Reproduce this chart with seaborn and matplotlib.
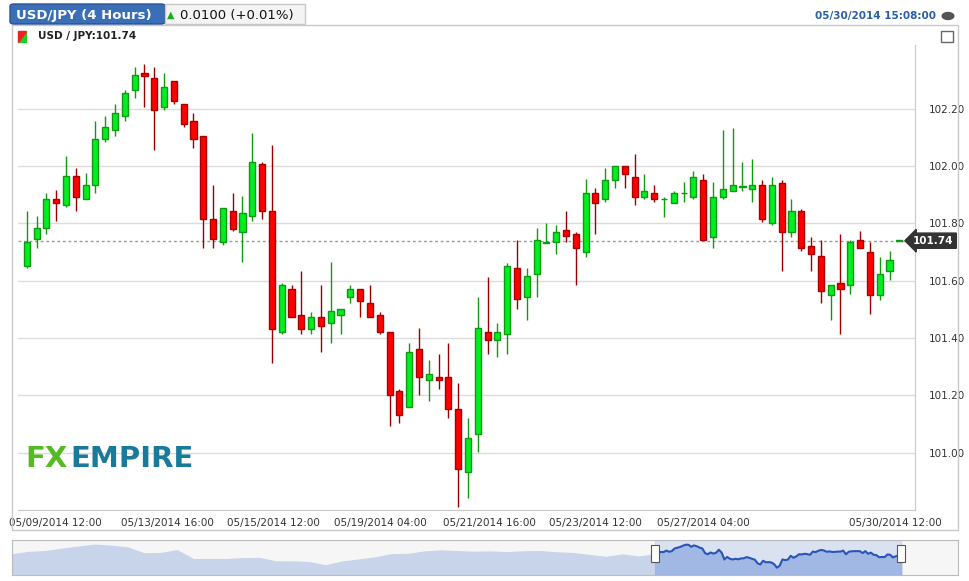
import matplotlib
matplotlib.use("Agg")
import matplotlib.pyplot as plt
import seaborn as sns
import numpy as np
import pandas as pd
from matplotlib.patches import Rectangle, FancyBboxPatch, Polygon

opens = [101.653,101.745,101.784,101.885,101.863,101.965,101.885,101.934,102.094,102.126,102.174,102.265,102.324,102.307,102.206,102.297,102.216,102.157,102.105,101.815,101.734,101.844,101.772,101.826,
         102.006,101.845,101.422,101.573,101.482,101.432,101.472,101.453,101.482,101.542,101.573,101.524,101.482,101.423,101.214,101.161,101.363,101.252,101.263,101.263,101.151,100.932,101.065,
         101.423,101.392,101.413,101.643,101.542,101.622,101.733,101.734,101.776,101.765,101.702,101.905,101.884,101.953,102.002,101.964,101.894,101.905,101.884,101.873,101.905,101.894,101.953,
         101.753,101.894,101.915,101.927,101.922,101.933,101.803,101.943,101.772,101.845,101.723,101.685,101.552,101.594,101.584,101.744,101.702,101.552,101.633,101.738]
highs = [101.845,101.826,101.905,101.916,102.036,101.995,101.977,102.156,102.176,102.216,102.266,102.345,102.356,102.345,102.326,102.297,102.216,102.185,102.105,101.935,101.853,101.906,101.895,102.116,
         102.013,102.074,101.591,101.584,101.634,101.492,101.584,101.664,101.503,101.584,101.573,101.584,101.492,101.423,101.221,101.382,101.434,101.323,101.343,101.382,101.242,101.122,101.542,
         101.613,101.453,101.663,101.744,101.643,101.783,101.803,101.793,101.844,101.772,101.955,101.923,101.994,102.002,102.002,102.044,101.974,101.934,101.894,101.914,101.944,101.984,101.974,
         101.944,102.126,102.135,102.014,102.024,101.953,101.964,101.953,101.884,101.852,101.753,101.744,101.584,101.764,101.744,101.773,101.734,101.684,101.703,101.738]
lows = [101.646,101.716,101.765,101.807,101.856,101.845,101.885,101.906,102.086,102.107,102.156,102.237,102.206,102.055,102.197,102.216,102.136,102.065,101.714,101.714,101.726,101.774,101.664,101.807,
        101.814,101.314,101.413,101.472,101.413,101.413,101.353,101.384,101.413,101.522,101.472,101.472,101.413,101.093,101.102,101.161,101.203,101.182,101.223,101.122,100.811,100.842,101.003,
        101.343,101.334,101.343,101.503,101.464,101.544,101.733,101.694,101.735,101.584,101.684,101.764,101.874,101.924,101.924,101.864,101.885,101.874,101.824,101.873,101.874,101.884,101.744,
        101.714,101.884,101.915,101.915,101.874,101.805,101.794,101.634,101.753,101.705,101.634,101.523,101.464,101.414,101.555,101.713,101.484,101.534,101.603,101.738]
closes = [101.735,101.784,101.885,101.873,101.965,101.894,101.934,102.094,102.136,102.185,102.255,102.317,102.314,102.195,102.276,102.227,102.146,102.094,101.815,101.745,101.853,101.782,101.836,102.014,
          101.845,101.432,101.584,101.472,101.432,101.472,101.443,101.493,101.503,101.573,101.531,101.472,101.422,101.202,101.132,101.353,101.263,101.273,101.252,101.151,100.942,101.053,101.434,
          101.392,101.423,101.653,101.535,101.615,101.744,101.735,101.772,101.755,101.713,101.905,101.873,101.953,102.002,101.974,101.894,101.915,101.884,101.885,101.905,101.906,101.964,101.744,
          101.894,101.922,101.933,101.931,101.933,101.814,101.933,101.772,101.843,101.714,101.692,101.563,101.584,101.573,101.734,101.713,101.552,101.622,101.674,101.738]
xtick_pos = [2.9, 14.3, 25.2, 36.1, 47.2, 58.0, 69.0, 88.6]
xtick_labels = ["05/09/2014 12:00", "05/13/2014 16:00", "05/15/2014 12:00", "05/19/2014 04:00",
                "05/21/2014 16:00", "05/23/2014 12:00", "05/27/2014 04:00", "05/30/2014 12:00"]
ytick_vals = [101.00, 101.20, 101.40, 101.60, 101.80, 102.00, 102.20]
last_price = 101.74

df = pd.DataFrame({"o": opens, "h": highs, "l": lows, "c": closes})
df["i"] = np.arange(len(df))

sns.set_style("white")
plt.rcParams['font.family'] = ['DejaVu Sans']
W, H = 970, 581
fig = plt.figure(figsize=(W/100, H/100), dpi=100)
fig.patch.set_facecolor("white")

def fx(x): return x / W
def fy(y): return 1 - y / H

fig.patches.append(Rectangle((fx(12), fy(530)), fx(946), 505/H, transform=fig.transFigure,
                             fill=False, edgecolor="#c8c8c8", lw=1))
fig.patches.append(FancyBboxPatch((fx(10), fy(24)), fx(155), 20/H, boxstyle="round,pad=0,rounding_size=0.004",
                                  transform=fig.transFigure, facecolor="#3a6fb8", edgecolor="#2a5090"))
fig.text(fx(16), fy(15), "USD/JPY (4 Hours)", color="white", fontsize=9.5, fontweight="bold", va="center")
fig.patches.append(Rectangle((fx(165), fy(24)), fx(140), 20/H, transform=fig.transFigure,
                             facecolor="#f4f4f4", edgecolor="#c8c8c8"))
fig.text(fx(167), fy(15), "▲", color="#22aa22", fontsize=7, va="center")
fig.text(fx(180), fy(15), "0.0100 (+0.01%)", color="#111111", fontsize=9.5, va="center")
fig.text(fx(936), fy(16), "05/30/2014 15:08:00", color="#2a5fa8", fontsize=7.5, fontweight="bold", va="center", ha="right")
fig.patches.append(plt.Circle((fx(948), fy(16)), 0.006, transform=fig.transFigure, color="#555555"))
fig.text(fx(38), fy(36), "USD / JPY:101.74", color="#222222", fontsize=7.5, fontweight="bold", va="center")
fig.patches.append(Polygon([[fx(18), fy(42)], [fx(26), fy(42)], [fx(26), fy(31)]], closed=True,
                           transform=fig.transFigure, color="#22cc22"))
fig.patches.append(Polygon([[fx(18), fy(42)], [fx(18), fy(31)], [fx(26), fy(31)]], closed=True,
                           transform=fig.transFigure, color="#ee2222"))
fig.patches.append(Rectangle((fx(941), fy(42)), fx(12), 11/H, transform=fig.transFigure,
                             facecolor="white", edgecolor="#666666"))

ax = fig.add_axes([fx(18), fy(510), fx(897), 465/H])
ax.set_facecolor("white")
for s in ax.spines.values():
    s.set_visible(False)
ax.spines["bottom"].set_visible(True); ax.spines["bottom"].set_color("#c8c8c8")
ax.spines["right"].set_visible(True); ax.spines["right"].set_color("#c8c8c8")
for v in ytick_vals:
    ax.axhline(v, color="#dcdcdc", lw=1, zorder=0)
ax.axhline(last_price, color="#999999", lw=1, ls=(0, (2, 2)), zorder=1)

up = df[df.c >= df.o]; dn = df[df.c < df.o]
ax.vlines(up.i, up.l, up.h, color="#119911", lw=1, zorder=2)
ax.vlines(dn.i, dn.l, dn.h, color="#990000", lw=1, zorder=2)
ax.bar(up.i, np.maximum(up.c - up.o, 0.003), bottom=up.o, width=0.62, color="#00ee22", edgecolor="#119911", lw=1, zorder=3)
ax.bar(dn.i, dn.o - dn.c, bottom=dn.c, width=0.62, color="#ff0000", edgecolor="#aa0000", lw=1, zorder=3)

ax.set_xlim(-0.9, len(df) - 1 + 1.6)
ax.set_ylim(100.80, 102.423)
ax.set_xticks(xtick_pos); ax.set_xticklabels(xtick_labels, fontsize=7.5, color="#333333")
ax.yaxis.tick_right()
ax.set_yticks(ytick_vals); ax.set_yticklabels([f"{v:.2f}" for v in ytick_vals], fontsize=7.5, color="#333333")
ax.tick_params(length=0, pad=6)
ax.tick_params(axis="y", pad=10)

ax.annotate(f"{last_price:.2f}", xy=(1.0, last_price), xycoords=("axes fraction", "data"),
            xytext=(0.998, last_price), textcoords=("axes fraction", "data"),
            fontsize=7.5, fontweight="bold", color="white", va="center", ha="left",
            bbox=dict(boxstyle="larrow,pad=0.25", fc="#333333", ec="#333333"), zorder=5,
            annotation_clip=False)

ax.text(0.008, 0.11, "FX", transform=ax.transAxes, fontsize=21, color="#55bb22", fontweight="bold", va="center")
ax.text(0.058, 0.11, "EMPIRE", transform=ax.transAxes, fontsize=21, color="#1a7a9a", fontweight="semibold", va="center")

nav = fig.add_axes([fx(12), fy(575), fx(946), 35/H])
nav.set_facecolor("#f6f6f6")
ctx = pd.DataFrame({"x": np.linspace(0, 0.68, 40),
                    "y": np.interp(np.linspace(0, 1, 40), np.linspace(0, 1, len(closes)), closes)})
nav.fill_between(ctx.x, 100.5, ctx.y, color="#c8d4ea")
sel = pd.DataFrame({"x": np.linspace(0.68, 0.94, len(closes)), "y": closes})
nav.fill_between(sel.x, 100.5, sel.y, color="#aabde6")
sns.lineplot(data=sel, x="x", y="y", ax=nav, color="#2a55b8", lw=1.5)
nav.axvspan(0.68, 0.94, color="#8aa6e0", alpha=0.25)
for hx in (0.68, 0.94):
    nav.add_patch(Rectangle((hx - 0.004, 101.3), 0.008, 1.0, facecolor="white", edgecolor="#555555", lw=0.8, zorder=5))
nav.set_xlim(0, 1); nav.set_ylim(100.5, 102.6)
nav.set_xticks([]); nav.set_yticks([]); nav.set_xlabel(""); nav.set_ylabel("")
for s in nav.spines.values():
    s.set_color("#bbbbbb")

fig.savefig("out.png", dpi=100)
